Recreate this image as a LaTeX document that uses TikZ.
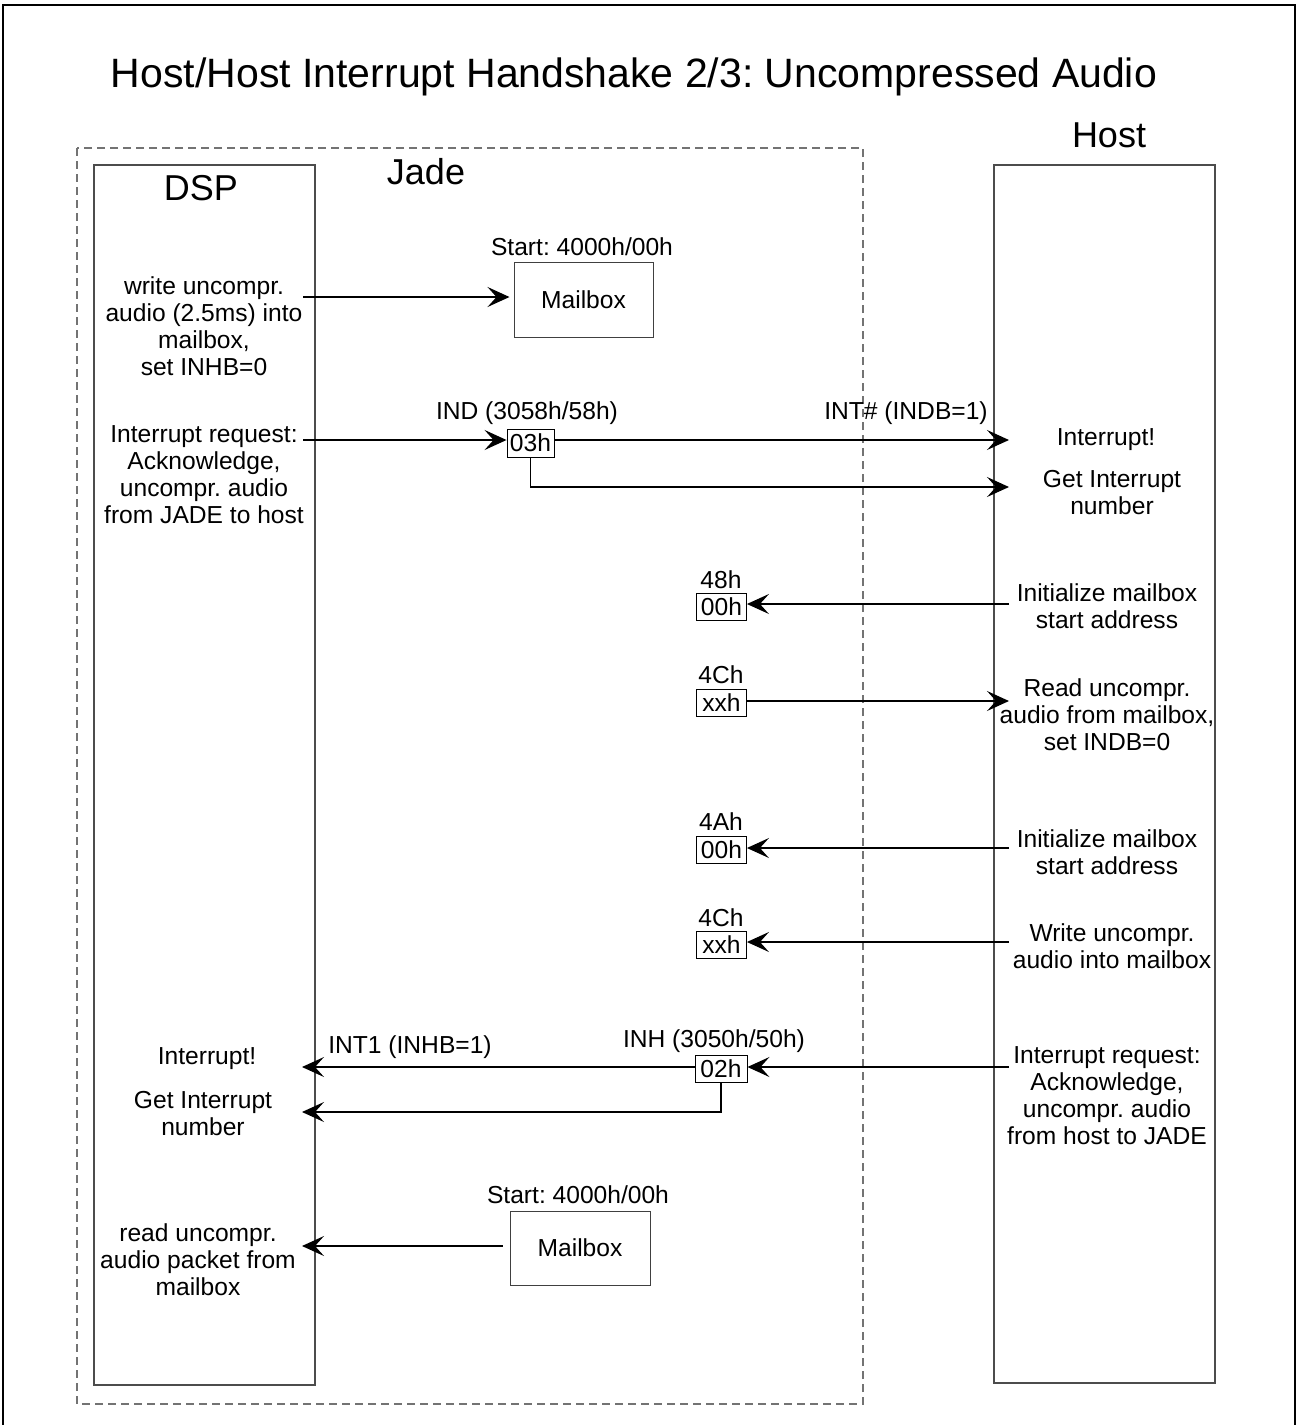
\documentclass[tikz,border=0pt]{standalone}
\usepackage{fontspec}
\setmainfont{Liberation Sans}
\usetikzlibrary{arrows.meta}
\frenchspacing
\begin{document}
\begin{tikzpicture}[x=1pt,y=-1pt,
  every node/.style={font=\fontsize{24.6}{27}\selectfont, inner sep=0pt},
  txt/.style={align=center},
  big/.style={font=\fontsize{36}{40}\selectfont},
  lane/.style={draw=black!70, line width=1.2pt, minimum width=221pt},
  mbox/.style={draw=black!75, line width=1pt, minimum width=139pt, minimum height=75pt},
  reg/.style={draw=black, line width=0.9pt, minimum width=50pt, minimum height=27pt},
  arr/.style={line width=1.2pt, -{Stealth[length=22pt,width=20pt,inset=9pt]}},
  ln/.style={line width=1.1pt}]
\useasboundingbox (0,0) rectangle (1298,1425);
% outer border (open bottom)
\draw[line width=2pt] (3,1425) -- (3,5) -- (1295,5) -- (1295,1425);
% title
\node[font=\fontsize{41}{45}\selectfont] (title) at (634,77) {Host/Host Interrupt Handshake 2/3: Uncompressed Audio};
% Jade dashed box
\draw[black!55, line width=1.2pt, dash pattern=on 8pt off 5pt] (77,148) rectangle (863,1404);
\node[big] (jade) at (426,172) {Jade};
% lanes
\node[lane, minimum height=1220pt] (dsp) at (204.5,775) {};
\node[big] (dspl) at (201,188) {DSP};
\node[lane, minimum height=1218pt] (host) at (1104.5,774) {};
\node[big] (hostl) at (1109,135) {Host};
% mailbox 1
\node[mbox] (mb1) at (583.5,299.5) {Mailbox};
\node (mb1l) at (582,247) {Start: 4000h/00h};
\node[txt] (w1) at (204,326) {write uncompr.\\audio (2.5ms) into\\mailbox,\\set INHB=0};
\coordinate (w1o) at (303,297);
\draw[arr] (w1o) -- ([xshift=-4pt]mb1.west |- w1o);
% interrupt request 1
\node[txt] (ir1) at (204,475) {Interrupt request:\\Acknowledge,\\uncompr. audio\\from JADE to host};
\node[reg, minimum width=47pt, minimum height=28pt] (r03) at (530.5,443) {03h};
\node (indl) at (527,413) {IND (3058h/58h)};
\coordinate (ir1o) at (303,440);
\draw[arr] (ir1o) -- (r03.west |- ir1o);
\node (intl) at (906,413) {INT\# (INDB=1)};
\node (hint) at (1106,440) {Interrupt!};
\coordinate (hintc) at (1009,440);
\draw[arr] (r03.east |- hintc) -- (hintc);
\node[txt] (hgin) at (1112,493) {Get Interrupt\\number};
\coordinate (hginc) at (1009,487);
\draw[arr] (r03.south) -- (r03.south |- hginc) -- (hginc);
% 48h
\node (l48) at (721,580) {48h};
\node[reg] (r48) at (721.5,607) {00h};
\node[txt] (ini1) at (1107,606) {Initialize mailbox\\start address};
\coordinate (ini1c) at (1009,604);
\draw[arr] (ini1c) -- (r48.east |- ini1c);
% 4Ch read
\node (l4c) at (721,675) {4Ch};
\node[reg] (r4c) at (721.5,702.5) {xxh};
\node[txt] (rd) at (1107,715) {Read uncompr.\\audio from mailbox,\\set INDB=0};
\coordinate (rdc) at (1009,701);
\draw[arr] (r4c.east |- rdc) -- (rdc);
% 4Ah
\node (l4a) at (721,822) {4Ah};
\node[reg] (r4a) at (721.5,849.5) {00h};
\node[txt] (ini2) at (1107,852) {Initialize mailbox\\start address};
\coordinate (ini2c) at (1009,848);
\draw[arr] (ini2c) -- (r4a.east |- ini2c);
% 4Ch write
\node (l4c2) at (721,918) {4Ch};
\node[reg] (r4c2) at (721.5,944.5) {xxh};
\node[txt] (wr) at (1112,946) {Write uncompr.\\audio into mailbox};
\coordinate (wrc) at (1009,942);
\draw[arr] (wrc) -- (r4c2.east |- wrc);
% INH
\node (inhl) at (714,1041) {INH (3050h/50h)};
\node[reg, minimum width=52pt] (r02) at (721,1068.5) {02h};
\node[txt] (ir2) at (1107,1096) {Interrupt request:\\Acknowledge,\\uncompr. audio\\from host to JADE};
\coordinate (ir2c) at (1009,1067);
\draw[arr] (ir2c) -- (r02.east |- ir2c);
\node (int1l) at (410,1047) {INT1 (INHB=1)};
\node (dint) at (207,1059) {Interrupt!};
\coordinate (dintc) at (302,1067);
\draw[arr] (r02.west |- dintc) -- (dintc);
\node[txt] (dgin) at (203,1114) {Get Interrupt\\number};
\coordinate (dginc) at (302,1112);
\draw[arr] (r02.south) -- (r02.south |- dginc) -- (dginc);
% mailbox 2
\node[mbox, minimum width=140pt, minimum height=74pt] (mb2) at (580,1248) {Mailbox};
\node (mb2l) at (578,1195) {Start: 4000h/00h};
\node[txt] (rdp) at (198,1260) {read uncompr.\\audio packet from\\mailbox};
\coordinate (rdpc) at (302,1246);
\draw[arr] ([xshift=-7pt]mb2.west |- rdpc) -- (rdpc);
\end{tikzpicture}
\end{document}
